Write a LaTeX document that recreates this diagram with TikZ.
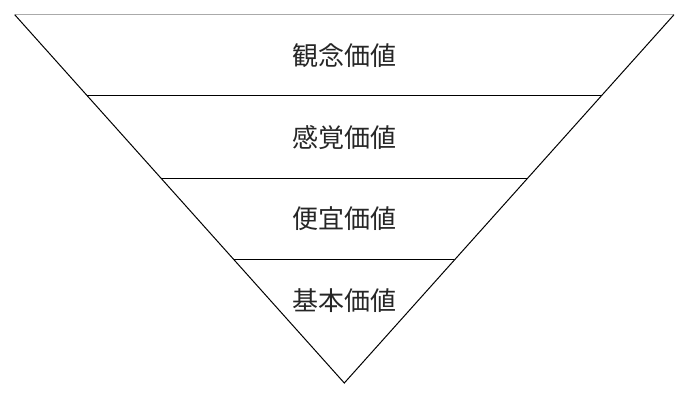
\documentclass[tikz,border=0pt]{standalone}
\usepackage{fontspec}
\usetikzlibrary{calc}
\newfontfamily\cjk{Noto Sans CJK JP}
\tikzset{every picture/.style={line width=0.75pt}}
\tikzset{layer label/.style={font=\cjk\fontsize{19.5}{20}\selectfont, text=black!85, inner sep=0pt}}

\begin{document}
\begin{tikzpicture}[x=0.75pt,y=0.75pt,yscale=-1,xscale=1]
\useasboundingbox (0,0) rectangle (688,400);

% Corners
\coordinate (tl) at (14.7,14.7);
\coordinate (tr) at (674,14.7);
\coordinate (apex) at (344.3,383);

%Shape: Triangle
\draw  [color={rgb, 255:red, 170; green, 170; blue, 170 }  ,draw opacity=1 ] (tl) -- (tr) ;
\draw   (tl) -- (apex) -- (tr) ;

%Shape: Layer lines
\draw   ($(tl)!0.2199!(apex)$) -- ($(tr)!0.2199!(apex)$) ;
\draw   ($(tl)!0.4434!(apex)$) -- ($(tr)!0.4434!(apex)$) ;
\draw   ($(tl)!0.6660!(apex)$) -- ($(tr)!0.6660!(apex)$) ;

% Text Node
\node [layer label] (idea) at (344,56) {観念価値};
% Text Node
\node [layer label] (sense) at (344,137.5) {感覚価値};
% Text Node
\node [layer label] (conv) at (344,219) {便宜価値};
% Text Node
\node [layer label] (basic) at (344,300.5) {基本価値};

\end{tikzpicture}
\end{document}
